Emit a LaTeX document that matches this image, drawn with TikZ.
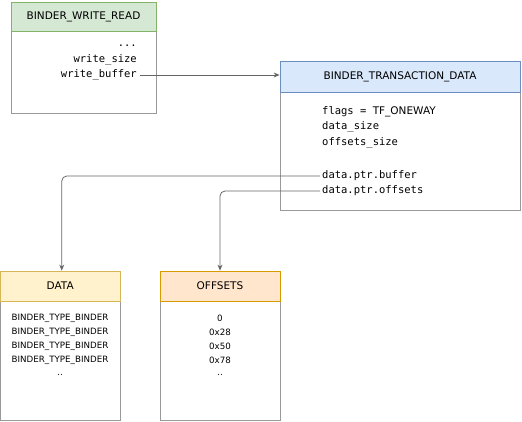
\documentclass[tikz,border=0pt]{standalone}
\usepackage{fontspec}
\setmainfont{DejaVu Sans}
\setmonofont{DejaVu Sans Mono}
\usetikzlibrary{arrows.meta}
\definecolor{gfill}{HTML}{D5E8D4}\definecolor{gline}{HTML}{82B366}
\definecolor{bfill}{HTML}{DAE8FC}\definecolor{bline}{HTML}{6C8EBF}
\definecolor{yfill}{HTML}{FFF2CC}\definecolor{yline}{HTML}{D6B656}
\definecolor{ofill}{HTML}{FFE6CC}\definecolor{oline}{HTML}{D79B00}
\definecolor{bodygray}{HTML}{999999}
\definecolor{conngray}{HTML}{666666}
\tikzset{
  bodybox/.style={draw=bodygray, line width=0.8pt, fill=white},
  hdr/.style={rectangle, line width=0.8pt, inner sep=0pt, font=\fontsize{10.5}{12}\selectfont},
  fld/.style={inner sep=0pt, font=\ttfamily\fontsize{10.5}{12}\selectfont},
  item/.style={inner sep=0pt, font=\fontsize{8.7}{10}\selectfont},
  conn/.style={draw=conngray, line width=0.8pt, -{Stealth[length=6pt,width=5pt]}, rounded corners=5pt}
}
\begin{document}
\begin{tikzpicture}[x=1pt,y=-1pt]
\useasboundingbox (0,0) rectangle (522,421);
% BINDER_WRITE_READ
\draw[bodybox] (11,2) rectangle (156,113);
\node[hdr, draw=gline, fill=gfill, minimum width=145pt, minimum height=29pt] (bwr) at (83.5,16.5) {BINDER\_WRITE\_READ};
\node[fld, anchor=east] (dots1) at (137,46) {...};
\node[fld, anchor=east] (ws) at (137,60) {write\_size};
\node[fld, anchor=east] (wb) at (137,75) {write\_buffer};
% BINDER_TRANSACTION_DATA
\draw[bodybox] (280,61) rectangle (520,210);
\node[hdr, draw=bline, fill=bfill, minimum width=240pt, minimum height=31pt] (btd) at (400,76.5) {BINDER\_TRANSACTION\_DATA};
\node[fld, anchor=west] (flags) at (322,112) {flags = \textrm{TF\_ONEWAY}};
\node[fld, anchor=west] (ds) at (322,127) {data\_size};
\node[fld, anchor=west] (os) at (322,143) {offsets\_size};
\node[fld, anchor=west] (buf) at (322,176) {data.ptr.buffer};
\node[fld, anchor=west] (off) at (322,191) {data.ptr.offsets};
% DATA
\draw[bodybox] (0.5,271) rectangle (120,420);
\node[hdr, draw=yline, fill=yfill, minimum width=119.5pt, minimum height=30pt] (datah) at (60.25,286) {DATA};
\node[item] (d1) at (60,318) {BINDER\_TYPE\_BINDER};
\node[item] (d2) at (60,332) {BINDER\_TYPE\_BINDER};
\node[item] (d3) at (60,346) {BINDER\_TYPE\_BINDER};
\node[item] (d4) at (60,360) {BINDER\_TYPE\_BINDER};
\node[item] (d5) at (60,375) {..};
% OFFSETS
\draw[bodybox] (160,271) rectangle (280,420);
\node[hdr, draw=oline, fill=ofill, minimum width=120pt, minimum height=30pt] (offh) at (220,286) {OFFSETS};
\node[item] (o1) at (220,318) {0};
\node[item] (o2) at (220,332) {0x28};
\node[item] (o3) at (220,346) {0x50};
\node[item] (o4) at (220,360) {0x78};
\node[item] (o5) at (220,375) {..};
% connectors
\draw[conn] ([xshift=3pt]wb.east) -- (wb.east -| btd.west);
\draw[conn] ([xshift=-2pt]buf.west) -| ([xshift=1.5pt]datah.north);
\draw[conn] ([xshift=-2pt]off.west) -| (offh.north);
\end{tikzpicture}
\end{document}
